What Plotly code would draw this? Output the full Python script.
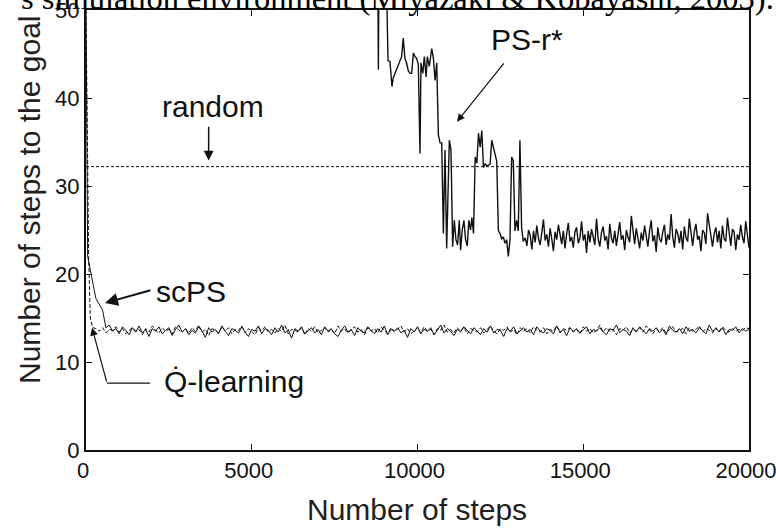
import plotly.graph_objects as go

# ---------------- data ----------------
random_level = 32.2

scps_head_x = [0, 50, 300, 500]
scps_head_y = [50, 22.0, 17.2, 15.9]
scps_tail_x = list(range(600, 20001, 100))
scps_tail_y = [
    13.9,14.2,13.5,13.8,13.2,14.0,13.6,13.1,13.9,13.4,14.1,13.3,13.7,12.9,13.8,
    13.5,14.0,13.2,13.6,13.9,13.0,13.7,14.2,13.4,13.8,13.1,13.6,13.3,14.0,13.5,
    12.8,13.9,13.4,13.7,13.2,14.1,13.5,13.0,13.8,13.6,13.3,14.0,13.4,12.9,13.7,
    13.5,14.1,13.2,13.8,13.6,13.1,13.9,13.4,14.2,13.3,13.7,12.7,13.8,13.5,14.0,
    13.2,13.6,13.9,13.3,13.7,13.1,14.0,13.5,13.8,13.2,12.9,13.6,14.1,13.4,13.7,
    13.0,13.9,13.5,13.3,14.0,13.6,13.2,13.8,13.4,14.1,13.1,13.7,13.5,13.9,13.3,
    13.6,12.8,13.8,13.4,14.0,13.2,13.7,13.5,13.9,13.1,13.6,14.2,13.3,13.8,13.5,
    13.0,13.7,13.4,14.0,13.6,13.2,13.9,13.5,13.1,13.8,13.4,14.1,13.3,13.7,13.6,
    12.9,13.8,13.5,14.0,13.2,13.6,13.9,13.4,13.7,13.1,14.0,13.5,13.3,13.8,13.6,
    13.2,14.1,13.4,13.7,13.0,13.9,13.5,13.8,13.3,13.6,14.0,13.2,13.7,13.5,13.9,
    13.4,13.1,13.8,13.6,14.2,13.3,13.7,13.5,13.0,13.9,13.4,14.0,13.6,13.2,13.8,
    13.5,13.9,13.3,13.7,13.1,14.1,13.6,13.4,13.8,13.2,14.0,13.5,13.7,13.3,13.9,
    13.6,13.2,14.2,13.5,13.8,13.4,13.9,13.1,13.7,13.6,14.0,13.3,13.8,13.5,13.7,
]

q_head_x = [0, 80, 130, 200]
q_head_y = [50, 22.0, 15.0, 13.9]
q_tail_x = list(range(300, 20001, 100))
q_tail_y = [
    13.8,13.5,13.9,13.3,13.7,13.6,14.0,13.4,13.8,13.2,13.6,13.9,13.5,13.7,13.1,
    13.8,13.4,14.1,13.6,13.3,13.9,13.5,13.7,13.2,14.0,13.6,13.4,13.8,13.3,13.9,
    13.5,14.2,13.4,13.7,13.0,13.8,13.6,13.3,14.0,13.5,13.9,13.2,13.7,13.6,14.1,
    13.3,13.8,13.5,13.1,13.9,13.6,14.0,13.4,13.7,13.3,13.8,13.5,14.2,13.2,13.7,
    13.6,13.4,13.9,13.1,13.8,13.5,14.0,13.3,13.6,13.9,13.4,13.7,13.2,14.1,13.5,
    13.8,13.3,13.6,14.0,13.4,13.7,13.1,13.9,13.5,13.8,13.3,14.0,13.6,13.2,13.9,
    13.5,13.7,14.1,13.4,13.8,13.2,13.6,13.9,13.3,14.0,13.5,13.7,13.1,13.8,13.6,
    14.2,13.4,13.7,13.3,13.9,13.5,14.0,13.2,13.8,13.6,13.4,13.9,13.3,13.7,14.1,
    13.5,13.2,13.8,13.6,14.0,13.4,13.7,13.1,13.9,13.5,13.8,13.3,14.0,13.6,13.4,
    13.9,13.2,13.7,13.5,14.1,13.3,13.8,13.6,13.9,13.4,13.7,13.2,14.0,13.5,13.8,
    13.3,13.6,14.2,13.4,13.9,13.5,13.7,13.1,13.8,13.6,14.0,13.3,13.7,13.5,13.9,
    13.4,14.1,13.6,13.2,13.8,13.5,13.9,13.3,13.7,14.0,13.4,13.6,13.8,13.2,13.9,
    13.5,13.7,14.1,13.4,13.8,13.6,13.3,13.9,13.5,14.0,13.6,13.4,13.8,13.5,13.7,
    13.6,13.9,13.8,
]

ps_head_x = [0, 8780, 8820, 8860, 8980, 9110, 9170, 9230, 9270, 9370, 9470,
             9520, 9570, 9620, 9670, 9720, 9775, 9825, 9875, 9925, 9975,
             10025, 10075, 10105, 10160, 10205, 10260, 10295, 10355, 10430,
             10480, 10530, 10580, 10630, 10680, 10730, 10780, 10830, 10880,
             10960, 11010, 11060, 11110, 11160, 11210, 11260, 11300, 11350,
             11400, 11450, 11500, 11550, 11600, 11640, 11690, 11740, 11790,
             11840, 11890, 11940, 11990, 12040, 12090, 12190, 12240, 12290,
             12340, 12390, 12440, 12490, 12540, 12590, 12640, 12690, 12740,
             12790, 12840, 12890, 12940, 12990, 13040, 13090, 13140, 13190]
ps_head_y = [70, 70, 43.2, 70, 70, 44.3, 44.1, 41.3, 42.3, 43.2, 44.1,
             44.7, 46.8, 44.5, 44.0, 43.1, 42.8, 42.8, 45.1, 44.7, 44.5,
             43.8, 33.7, 44.0, 42.8, 44.7, 42.4, 44.7, 43.6, 45.6,
             44.5, 42.0, 44.0, 35.8, 34.9, 34.9, 24.6, 34.1, 22.9,
             35.2, 34.1, 23.1, 26.1, 23.9, 23.3, 26.1, 22.7, 25.0,
             26.1, 23.9, 23.2, 26.1, 25.0, 26.4, 24.6, 33.3, 32.6,
             36.0, 34.4, 36.3, 32.1, 32.5, 32.3, 32.5, 35.2, 34.4,
             33.6, 32.8, 24.9, 24.6, 24.0, 24.2, 23.5, 23.9, 22.0,
             23.9, 33.3, 32.9, 24.9, 26.1, 24.9, 35.2, 25.3, 23.7]
ps_tail_x = list(range(13250, 20001, 50))
ps_tail_y = [
    24.1,23.2,25.0,24.4,22.8,24.9,23.6,25.5,24.0,23.3,24.7,26.2,23.8,24.5,23.1,
    25.2,24.0,22.6,24.8,23.9,25.6,24.3,23.4,24.9,22.9,24.6,25.8,23.7,24.2,23.0,
    24.8,25.3,23.5,24.1,26.0,23.8,24.5,22.4,24.9,23.6,25.1,24.2,23.3,26.3,24.0,
    23.1,24.7,25.4,23.8,24.3,22.8,25.7,24.1,23.5,24.9,23.2,24.6,25.9,23.9,24.4,
    22.7,25.0,24.2,23.6,26.6,24.8,23.4,25.2,24.0,22.9,24.7,23.8,25.5,24.3,23.1,
    24.9,26.1,23.7,24.4,22.5,25.3,24.0,23.6,24.8,25.6,23.3,24.5,23.9,26.8,24.2,
    23.0,25.1,24.6,23.5,24.9,22.8,25.4,24.1,23.7,26.3,24.5,23.2,24.8,25.7,23.9,
    24.3,22.6,25.0,24.7,23.4,26.9,25.8,24.2,23.1,24.6,25.3,23.6,24.9,22.9,25.5,
    24.0,23.7,26.4,24.4,23.2,25.1,24.8,22.7,24.5,23.9,25.6,24.2,23.5,26.0,24.3,
    23.0,
]

x_ticks = [0, 5000, 10000, 15000, 20000]
y_ticks = [0, 10, 20, 30, 40, 50]

# ---------------- figure ----------------
INK = "#111111"
PLOT_L, PLOT_R, PLOT_T, PLOT_B = 86, 749, 10, 450


def px_x(p):  # page pixel -> paper x
    return (p - PLOT_L) / (PLOT_R - PLOT_L)


def px_y(p):  # page pixel -> paper y
    return (PLOT_B - p) / (PLOT_B - PLOT_T)


fig = go.Figure()

fig.add_trace(go.Scatter(x=[0, 20000], y=[random_level, random_level], mode="lines",
                         line=dict(color=INK, width=1, dash="3px,2px"), name="random"))
fig.add_trace(go.Scatter(x=ps_head_x + ps_tail_x, y=ps_head_y + ps_tail_y, mode="lines",
                         line=dict(color=INK, width=1.4), name="PS-r*"))
fig.add_trace(go.Scatter(x=q_head_x + q_tail_x, y=q_head_y + q_tail_y, mode="lines",
                         line=dict(color=INK, width=1, dash="4px,2px"), name="Q-learning"))
fig.add_trace(go.Scatter(x=scps_head_x + scps_tail_x, y=scps_head_y + scps_tail_y, mode="lines",
                         line=dict(color=INK, width=1), name="scPS"))

LBL = dict(family="Liberation Sans, Arial, sans-serif", size=30, color=INK)
ann = []
ann.append(dict(x=13300, y=46.7, xref="x", yref="y", text="PS-r*", showarrow=False, font=LBL))
ann.append(dict(x=11190, y=37.3, ax=12640, ay=44.1, xref="x", yref="y", axref="x", ayref="y",
                text="", showarrow=True, arrowhead=2, arrowsize=1.3, arrowwidth=1.2, arrowcolor=INK))
ann.append(dict(x=3830, y=39.0, xref="x", yref="y", text="random", showarrow=False, font=LBL))
ann.append(dict(x=3700, y=32.9, ax=3700, ay=36.9, xref="x", yref="y", axref="x", ayref="y",
                text="", showarrow=True, arrowhead=2, arrowsize=1.3, arrowwidth=1.5, arrowcolor=INK))
ann.append(dict(x=3170, y=18.0, xref="x", yref="y", text="scPS", showarrow=False, font=LBL))
ann.append(dict(x=573, y=16.7, ax=1990, ay=18.2, xref="x", yref="y", axref="x", ayref="y",
                text="", showarrow=True, arrowhead=2, arrowsize=1.3, arrowwidth=2, arrowcolor=INK))
ann.append(dict(x=2290, y=7.8, xref="x", yref="y", xanchor="left", text="Q̇-learning",
                showarrow=False, font=LBL))
ann.append(dict(x=181, y=13.9, ax=634, ay=7.6, xref="x", yref="y", axref="x", ayref="y",
                text="", showarrow=True, arrowhead=2, arrowsize=1.3, arrowwidth=1.2, arrowcolor=INK))

TTL = dict(family="Liberation Sans, Arial, sans-serif", size=30, color="#231f20")
ann.append(dict(x=px_x(30), y=px_y(200), xref="paper", yref="paper", xanchor="center",
                yanchor="middle", text="Number of steps to the goal", textangle=-90,
                showarrow=False, font=TTL))
ann.append(dict(x=px_x(417), y=px_y(509), xref="paper", yref="paper", xanchor="center",
                yanchor="middle", text="Number of steps", showarrow=False, font=TTL))
# cut-off page text at the top
ann.append(dict(x=px_x(776), y=1, xref="paper", yref="paper", xanchor="right", yanchor="bottom",
                yshift=-8, text="s simulation environment (Miyazaki &amp; Kobayashi, 2003).",
                showarrow=False, font=dict(family="Liberation Serif, Times New Roman, serif",
                                           size=32.5, color="#000000")))

fig.update_layout(
    width=776, height=530,
    margin=dict(l=PLOT_L, r=776 - PLOT_R, t=PLOT_T, b=530 - PLOT_B, pad=0, autoexpand=False),
    paper_bgcolor="white", plot_bgcolor="white",
    showlegend=False,
    annotations=ann,
    shapes=[dict(type="line", xref="x", yref="y", x0=634, x1=1930, y0=7.6, y1=7.6,
                 line=dict(color=INK, width=1.2))],
    font=dict(family="Liberation Sans, Arial, sans-serif", size=22, color=INK),
)
fig.update_xaxes(range=[0, 20000], tickvals=x_ticks, ticktext=[str(v) for v in x_ticks],
                 ticks="inside", ticklen=6, tickcolor=INK, showline=True, linecolor=INK,
                 linewidth=2, mirror="ticks", showgrid=False, zeroline=False,
                 ticklabeloverflow="allow", automargin=False, ticklabelshift=-3)
fig.update_yaxes(range=[0, 50], tickvals=y_ticks, ticktext=[str(v) for v in y_ticks],
                 ticks="inside", ticklen=6, tickcolor=INK, showline=True, linecolor=INK,
                 linewidth=2, mirror="ticks", showgrid=False, zeroline=False,
                 ticklabeloverflow="allow", automargin=False)

fig.write_html("out.html", config={"displayModeBar": False},
               post_script="document.body.style.margin='0px';")
